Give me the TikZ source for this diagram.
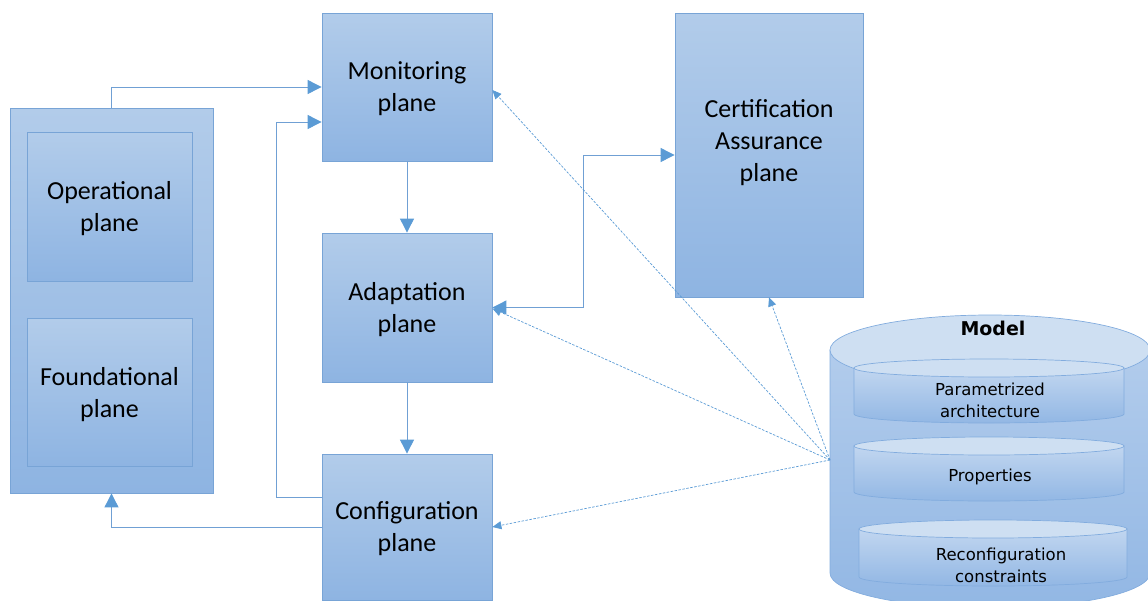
\documentclass[tikz,border=0pt]{standalone}
\usepackage{fontspec}
\setmainfont{Carlito}
\newfontfamily\dejavu{DejaVu Sans}
\usetikzlibrary{arrows.meta,calc}
\definecolor{boxtop}{RGB}{178,204,234}
\definecolor{boxbot}{RGB}{142,180,226}
\definecolor{boxline}{RGB}{120,164,214}
\definecolor{conncol}{RGB}{91,155,213}
\definecolor{linecol}{RGB}{112,160,212}
\definecolor{cyltop}{RGB}{206,223,242}
\definecolor{cylbtop}{RGB}{178,204,236}
\definecolor{cylbbot}{RGB}{146,183,228}
\definecolor{cylline}{RGB}{130,172,222}
\newcommand{\cylpart}[4]{% cx, topy, boty, rx
  \path[top color=cylbtop!80!white, bottom color=cylbbot, draw=cylline, line width=0.7pt]
    ({#1-#4},#2) -- ({#1-#4},#3) arc[start angle=180,end angle=360,x radius=#4 pt,y radius=9pt] -- ({#1+#4},#2) -- cycle;
  \path[fill=cyltop, draw=cylline, line width=0.7pt] (#1,#2) ellipse[x radius=#4 pt, y radius=9pt];
}
\begin{document}
\begin{tikzpicture}[x=1pt,y=-1pt,
  plane/.style={draw=boxline, line width=0.8pt, top color=boxtop, bottom color=boxbot,
    inner sep=0pt, align=center, font=\fontsize{26}{32}\selectfont, text depth=0pt},
  tip/.tip={Triangle[length=14pt,width=14pt,color=conncol]},
  conn/.style={draw=linecol, line width=0.9pt, -tip},
  dconn/.style={draw=conncol, line width=0.7pt, dash pattern=on 2.5pt off 1.5pt,
    -{Triangle[length=9pt,width=8pt]}},
  cyltext/.style={font=\dejavu\fontsize{16.5}{22}\selectfont, align=center, inner sep=0pt}]
\useasboundingbox (0,0) rectangle (1148,600);
\clip (0,0) rectangle (1148,600);

% left composite box
\node[plane, minimum width=203pt, minimum height=385pt] (outer) at (111.5,300.5) {};
\node[plane, minimum width=165pt, minimum height=149pt] (op) at (109.5,206.5) {Operational\\plane};
\node[plane, minimum width=165pt, minimum height=148pt] (fo) at (109.5,392) {Foundational\\plane};

% planes
\node[plane, minimum width=170pt, minimum height=148pt] (mon) at (407,87) {Monitoring\\plane};
\node[plane, minimum width=170pt, minimum height=149pt] (adp) at (407,307.5) {Adaptation\\plane};
\node[plane, minimum width=170pt, minimum height=146pt] (conf) at (407,527) {Configuration\\plane};
\node[plane, minimum width=188pt, minimum height=284pt] (cert) at (769,155) {};
\node[align=center, inner sep=0pt, font=\fontsize{26}{32}\selectfont] (certtxt) at (769,143) {Certification\\Assurance\\plane};

% model cylinder
\path[top color=cylbtop, bottom color=cylbbot, draw=cylline, line width=0.7pt]
  (830,350) -- (830,573) arc[start angle=180,end angle=360,x radius=160pt,y radius=35pt] -- (1150,350) -- cycle;
\path[fill=cyltop, draw=cylline, line width=0.7pt] (990,350) ellipse[x radius=160pt, y radius=35pt];
\node[font=\dejavu\bfseries\fontsize{19}{22}\selectfont, inner sep=0pt] (model) at (993,328) {Model};
\cylpart{989}{368}{414}{135}
\cylpart{989}{446}{492}{135}
\cylpart{993}{529}{577}{134}
\node[cyltext] (par) at (990,400) {Parametrized\\architecture};
\node[cyltext] (prop) at (990,477) {Properties};
\node[cyltext] (rec) at (1001,565) {Reconfiguration\\constraints};
\coordinate (src) at (830,460);

% solid connectors
\draw[conn] (outer.north) |- (mon.west);
\draw[conn] ([yshift=30pt]conf.west) -- ++(-45,0) |- ([yshift=-35pt]mon.west);
\draw[conn] (conf.west) -| (outer.south);
\draw[conn] (mon.south) -- (adp.north);
\draw[conn] (adp.south) -- (conf.north);
\draw[conn, tip-tip] (adp.east) -- ++(91,0) |- (cert.west);

% dashed connectors from model
\draw[dconn] (src) -- ([yshift=-3pt]mon.east);
\draw[dconn] (src) -- ([yshift=-1pt]adp.east);
\draw[dconn] (src) -- (conf.east);
\draw[dconn] (src) -- (cert.south);
\end{tikzpicture}
\end{document}
